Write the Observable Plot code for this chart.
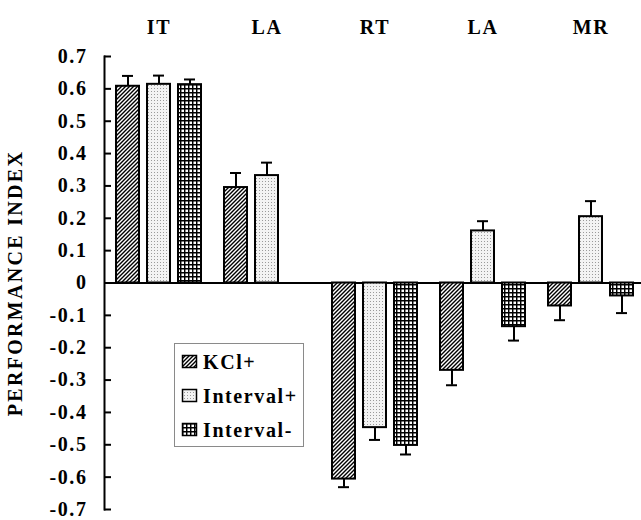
<!DOCTYPE html>
<html><head><meta charset="utf-8">
<script src="https://cdn.jsdelivr.net/npm/d3@7"></script>
<script src="https://cdn.jsdelivr.net/npm/@observablehq/plot@0.6"></script>
<style>
html,body{margin:0;padding:0;background:#fff;}
#wrap{position:relative;width:641px;height:520px;overflow:hidden;}
#legend{position:absolute;left:174px;top:343px;}
</style></head><body>
<svg width="0" height="0" style="position:absolute">
<defs>
<pattern id="pat-kcl" patternUnits="userSpaceOnUse" width="4" height="4">
 <rect width="4" height="4" fill="#fff"/>
 <path d="M-1,1 L1,-1 M0,4 L4,0 M3,5 L5,3" stroke="#000" stroke-width="1.4"/>
</pattern>
<pattern id="pat-intplus" patternUnits="userSpaceOnUse" width="3" height="3">
 <rect width="3" height="3" fill="#f3f3f3"/>
 <rect x="1" y="1" width="1" height="1" fill="#9a9a9a"/>
</pattern>
<pattern id="pat-intminus" patternUnits="userSpaceOnUse" width="4" height="4">
 <rect width="4" height="4" fill="#fff"/>
 <path d="M0,0.7 H4 M0.7,0 V4" stroke="#000" stroke-width="1.5"/>
</pattern>
</defs></svg>
<div id="wrap"></div>
<script>
// ---- data ----
const groupIds = ["IT", "LA-1", "RT", "LA-2", "MR"];
const groupLabels = ["IT", "LA", "RT", "LA", "MR"];
const seriesNames = ["KCl+", "Interval+", "Interval-"];
const kclValues = [0.608, 0.295, -0.606, -0.270, -0.071];
const kclErrors = [0.032, 0.045, 0.025, 0.046, 0.044];
const intPlusValues = [0.614, 0.332, -0.447, 0.161, 0.205];
const intPlusErrors = [0.027, 0.040, 0.038, 0.030, 0.048];
const intMinusValues = [0.613, null, -0.502, -0.135, -0.040];
const intMinusErrors = [0.016, null, 0.028, 0.043, 0.053];
const yTicks = [0.7, 0.6, 0.5, 0.4, 0.3, 0.2, 0.1, 0, -0.1, -0.2, -0.3, -0.4, -0.5, -0.6, -0.7];
const yTickLabels = ["0.7", "0.6", "0.5", "0.4", "0.3", "0.2", "0.1", "0", "-0.1", "-0.2", "-0.3", "-0.4", "-0.5", "-0.6", "-0.7"];
const yLabel = "PERFORMANCE INDEX";

// ---- styles ----
const seriesFill = {"KCl+": "url(#pat-kcl)", "Interval+": "url(#pat-intplus)", "Interval-": "url(#pat-intminus)"};
const BAND = 85, BARW = 23, PITCH = 31, CAP = 11;
const FONT = "'Liberation Serif', 'Times New Roman', serif";

const valueLists = [kclValues, intPlusValues, intMinusValues];
const errorLists = [kclErrors, intPlusErrors, intMinusErrors];
const rows = [];
seriesNames.forEach((s, si) => {
  groupIds.forEach((g, gi) => {
    const v = valueLists[si][gi];
    if (v == null) return;
    rows.push({group: g, series: s, slot: si, value: v, err: errorLists[si][gi]});
  });
});
const tipOf = r => r.value + Math.sign(r.value) * r.err;

const marks = [Plot.ruleY([0], {strokeWidth: 2})];
seriesNames.forEach((s, si) => {
  const d = rows.filter(r => r.series === s);
  const center = BARW / 2 + si * PITCH;
  marks.push(Plot.ruleX(d, {x: "group", y1: "value", y2: tipOf, dx: center - BAND / 2, strokeWidth: 2}));
  marks.push(Plot.tickY(d, {x: "group", y: tipOf, insetLeft: center - CAP / 2, insetRight: BAND - center - CAP / 2, strokeWidth: 2}));
  marks.push(Plot.barY(d, {x: "group", y: "value", fill: seriesFill[s], stroke: "#000", strokeWidth: 2,
    insetLeft: si * PITCH, insetRight: BAND - BARW - si * PITCH}));
});
marks.push(Plot.frame({anchor: "left", strokeWidth: 2}));
marks.push(Plot.axisX({anchor: "top", tickSize: 0, tickPadding: 23, label: null,
  tickFormat: k => groupLabels[groupIds.indexOf(k)]}));
marks.push(Plot.axisY({ticks: yTicks, tickSize: -7, tickPadding: 24, strokeWidth: 2, label: null,
  tickFormat: v => yTickLabels[yTicks.indexOf(v)]}));
marks.push(Plot.text([yLabel], {text: d => d, frameAnchor: "left", textAnchor: "middle", rotate: -90, dx: -89, fontSize: 20, fontWeight: "bold"}));

const chart = Plot.plot({
  width: 641, height: 520,
  marginLeft: 104, marginRight: -4, marginTop: 56, marginBottom: 11,
  style: {fontFamily: FONT, fontSize: "20px", fontWeight: "bold", color: "#000", background: "#fff", letterSpacing: "1.6px"},
  x: {domain: groupIds, paddingInner: 0.213, paddingOuter: 0.111, axis: null},
  y: {domain: [-0.7, 0.7], axis: null},
  marks
});
document.getElementById("wrap").append(chart);
d3.select(chart).selectAll("text").filter(function() { return this.textContent === yLabel; }).style("letter-spacing", "2.3px");

// ---- legend ----
const lg = d3.select("#wrap").append("svg").attr("id", "legend").attr("width", 131).attr("height", 105)
  .style("font-family", FONT).style("font-weight", "bold").style("font-size", "20px").style("letter-spacing", "1.6px");
lg.append("rect").attr("x", 0.5).attr("y", 0.5).attr("width", 129).attr("height", 103).attr("fill", "#fff").attr("stroke", "#8a8a8a");
seriesNames.forEach((s, i) => {
  lg.append("rect").attr("x", 8.5).attr("y", 12.5 + i * 34).attr("width", 14).attr("height", 12).attr("fill", seriesFill[s]).attr("stroke", "#000").attr("stroke-width", 1.5);
  lg.append("text").attr("x", 29).attr("y", 26 + i * 34).text(s);
});
</script>
</body></html>
